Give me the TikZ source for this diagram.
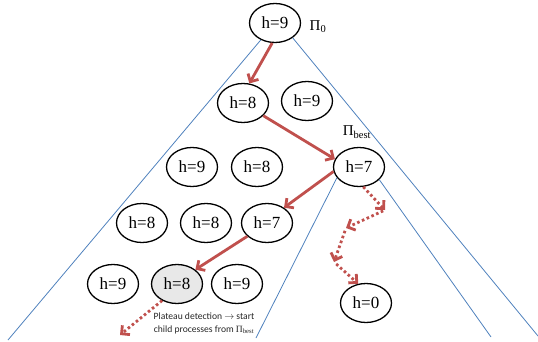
\documentclass[tikz,border=0pt]{standalone}
\usepackage{fontspec}
\setmainfont{Liberation Serif}
\newfontfamily\capfont{Carlito}
\usetikzlibrary{arrows.meta,shapes.geometric}
\definecolor{arrred}{HTML}{C0504D}
\definecolor{lineblue}{HTML}{4F81BD}
\tikzset{
  state/.style={ellipse,draw=black,line width=1.3pt,fill=white,minimum width=51pt,minimum height=39pt,inner sep=0pt,font=\fontsize{17}{17}\selectfont},
  graystate/.style={state,fill=black!9},
  treeline/.style={lineblue,line width=0.8pt},
  redarrow/.style={arrred,line width=2.8pt,-{Straight Barb[length=6pt,width=12pt]}},
  dotarrow/.style={arrred,line width=2.8pt,dash pattern=on 2.6pt off 2.6pt,-{Straight Barb[length=6pt,width=12pt]}},
  pilabel/.style={font=\fontsize{15}{15}\selectfont,inner sep=0pt}
}
\begin{document}
\begin{tikzpicture}[x=1pt,y=-1pt]
\useasboundingbox (0,0) rectangle (538,342);
% nodes
\node[state] (root) at (275,23) {h=9};
\node[state] (r2a) at (243,103) {h=8};
\node[state] (r2b) at (307,101) {h=9};
\node[state] (r3a) at (192,167) {h=9};
\node[state] (r3b) at (257,167) {h=8};
\node[state] (best) at (359,167) {h=7};
\node[state] (r4a) at (142,223) {h=8};
\node[state] (r4b) at (206,223) {h=8};
\node[state] (r4c) at (267,223) {h=7};
\node[state] (r5a) at (113,284) {h=9};
\node[graystate] (r5b) at (177,284) {h=8};
\node[state] (r5c) at (237,284) {h=9};
\node[state] (h0) at (366,303) {h=0};
% labels
\node[pilabel] (pi0) at (318,27) {Π\textsubscript{0}};
\node[pilabel] (pibest) at (357,132) {Π\textsubscript{best}};
\node[align=center,inner sep=0pt,text=black!85,font=\capfont\fontsize{9.6}{13}\selectfont] (plat) at (204,323)
  {Plateau detection $\rightarrow$ start\\child processes from {\rmfamily Π\textsubscript{best}}};
% tree outlines
\coordinate (L1) at (8,340);
\coordinate (L2) at (538,336);
\coordinate (L3) at (256,338);
\coordinate (L4) at (491,337);
\draw[treeline] (root.230) -- (L1);
\draw[treeline] (root.320) -- (L2);
\draw[treeline] (best.206) -- (L3);
\draw[treeline] (best.328) -- (L4);
% red solid path
\draw[redarrow] (root.262) -- (r2a.72);
\draw[redarrow] (r2a.-32) -- (best.162);
\draw[redarrow] (best.190) -- (r4c.42);
\draw[redarrow] (r4c.214) -- (r5b.38);
% dotted arrows
\coordinate (c1) at (120,335);
\draw[dotarrow] (r5b.228) -- (c1);
\coordinate (d1) at (385,210);
\coordinate (d2) at (346,228);
\coordinate (d3) at (334,262);
\draw[dotarrow] (best.282) -- (d1);
\draw[dotarrow,shorten <=2pt] (d1) -- (d2);
\draw[dotarrow,shorten <=3pt] (d2) -- (d3);
\draw[dotarrow,shorten <=3pt] (d3) -- (h0.112);
\end{tikzpicture}
\end{document}
